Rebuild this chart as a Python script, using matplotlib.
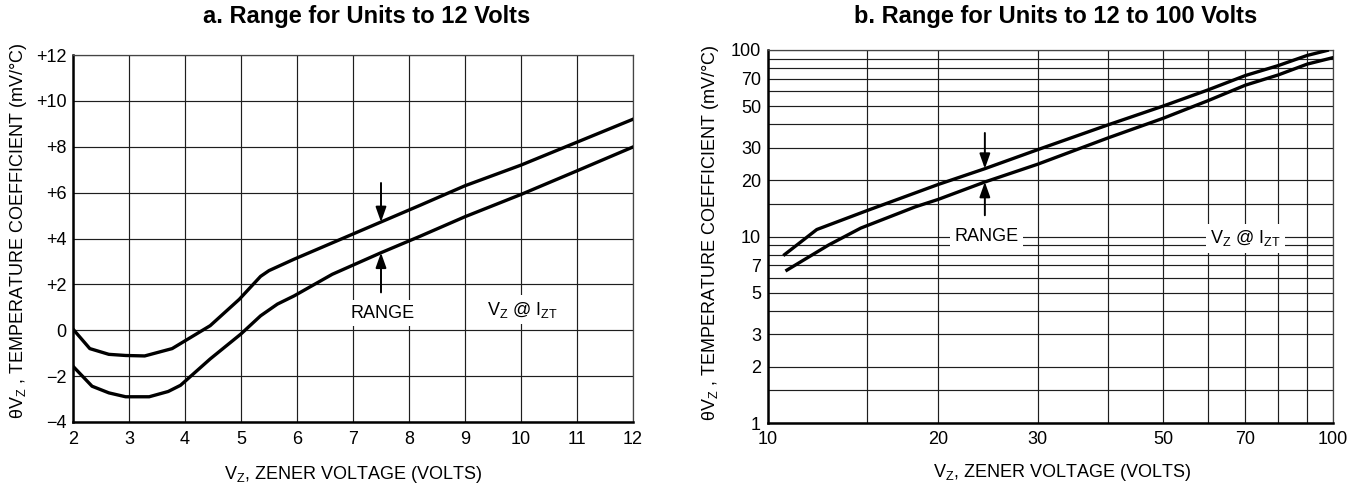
import matplotlib
matplotlib.use('Agg')
import matplotlib.pyplot as plt

plt.rcParams['font.family'] = ['Liberation Sans', 'DejaVu Sans']
plt.rcParams['mathtext.default'] = 'regular'

# ---------------- data: panel a (linear) ----------------
a_upper_vz = [2.0, 2.3, 2.64, 2.94, 3.28, 3.77, 4.45, 4.97, 5.35, 5.5, 5.95, 6.86, 7.5, 8.2, 9.0, 10.0, 11.0, 12.0]
a_upper_tc = [0.05, -0.8, -1.05, -1.1, -1.12, -0.8, 0.2, 1.35, 2.35, 2.6, 3.1, 4.05, 4.72, 5.45, 6.3, 7.2, 8.2, 9.2]
a_lower_vz = [2.0, 2.34, 2.64, 2.94, 3.36, 3.7, 3.92, 4.45, 5.0, 5.35, 5.65, 5.95, 6.63, 7.5, 8.2, 9.0, 10.0, 11.0, 12.0]
a_lower_tc = [-1.57, -2.44, -2.73, -2.9, -2.9, -2.67, -2.4, -1.25, -0.16, 0.63, 1.14, 1.5, 2.44, 3.38, 4.1, 4.95, 5.92, 6.95, 7.99]
a_xticks = [2, 3, 4, 5, 6, 7, 8, 9, 10, 11, 12]
a_yticks = [-4, -2, 0, 2, 4, 6, 8, 10, 12]
a_ylabels = ['\u22124', '\u22122', '0', '+2', '+4', '+6', '+8', '+10', '+12']
a_arrow_x = 7.5
a_arrow_down = (6.42, 4.72)
a_arrow_up = (1.65, 3.38)

# ---------------- data: panel b (log-log) ----------------
b_upper_vz = [10.7, 12.2, 15.0, 20.0, 24.2, 30.0, 40.0, 50.0, 60.0, 70.0, 80.0, 90.0, 97.7]
b_upper_tc = [8.0, 10.9, 13.8, 19.0, 23.1, 29.2, 39.7, 50.0, 61.0, 73.0, 82.5, 93.5, 99.5]
b_lower_vz = [10.8, 12.8, 14.6, 18.2, 20.0, 24.2, 30.0, 40.0, 50.0, 60.0, 70.0, 80.0, 90.0, 100.0]
b_lower_tc = [6.6, 9.0, 11.1, 14.4, 15.8, 19.6, 24.4, 33.8, 43.0, 53.4, 64.8, 73.5, 84.0, 91.0]
b_xticks = [10, 20, 30, 50, 70, 100]
b_xgrid_minor = [15, 40, 60, 80, 90]
b_yticks = [1, 2, 3, 5, 7, 10, 20, 30, 50, 70, 100]
b_ygrid_minor = [1.5, 4, 6, 8, 9, 15, 40, 60, 80, 90]
b_arrow_x = 24.2
b_arrow_down = (35.9, 23.1)
b_arrow_up = (13.0, 19.6)

W, H = 1353, 488
fig = plt.figure(figsize=(W / 100, H / 100), dpi=100)
axA = fig.add_axes([73 / W, 1 - 422 / H, 560 / W, 367 / H])
axB = fig.add_axes([768 / W, 1 - 423 / H, 565 / W, 373 / H])

FS = 13
GRID = dict(color='#1e1e1e', lw=0.85)


def style(ax):
    ax.set_axisbelow(True)
    for s in ('left', 'bottom'):
        ax.spines[s].set_linewidth(1.8)
        ax.spines[s].set_color('black')
    for s in ('top', 'right'):
        ax.spines[s].set_linewidth(0.9)
        ax.spines[s].set_color('#444444')
    ax.tick_params(which='both', length=0, labelsize=FS)


arrow_style = dict(arrowstyle='-|>,head_length=0.45,head_width=0.16', color='black',
                   lw=1.4, shrinkA=0, shrinkB=0, mutation_scale=20)
box = dict(boxstyle='square,pad=0.25', fc='white', ec='none')

# ---------------- panel a ----------------
style(axA)
axA.set_xlim(2, 12)
axA.set_ylim(-4, 12)
axA.set_xticks(a_xticks)
axA.set_yticks(a_yticks, a_ylabels)
axA.grid(True, **GRID)
axA.tick_params(axis='x', pad=6.5)
axA.tick_params(axis='y', pad=4.5)
axA.plot(a_upper_vz, a_upper_tc, color='black', lw=2.4, zorder=4, solid_joinstyle='round')
axA.plot(a_lower_vz, a_lower_tc, color='black', lw=2.4, zorder=4, solid_joinstyle='round')
axA.annotate('', xy=(a_arrow_x, a_arrow_down[1]), xytext=(a_arrow_x, a_arrow_down[0]),
             arrowprops=arrow_style, zorder=5)
axA.annotate('', xy=(a_arrow_x, a_arrow_up[1]), xytext=(a_arrow_x, a_arrow_up[0]),
             arrowprops=arrow_style, zorder=5)
axA.text(7.53, 0.75, 'RANGE', ha='center', va='center', fontsize=FS, bbox=box, zorder=3)
axA.text(10.03, 0.9, 'V$_Z$ @ I$_{ZT}$', ha='center', va='center', fontsize=FS, bbox=box, zorder=3)
axA.set_xlabel('V$_Z$, ZENER VOLTAGE (VOLTS)', fontsize=FS, va='baseline')
axA.xaxis.set_label_coords(0.5, -0.155)
axA.set_ylabel('\u03b8V$_Z$ , TEMPERATURE COEFFICIENT (mV/\u00b0C)', fontsize=FS, va='center')
axA.yaxis.set_label_coords(-0.098, 0.52)

# ---------------- panel b ----------------
style(axB)
axB.set_xscale('log')
axB.set_yscale('log')
axB.set_xlim(10, 100)
axB.set_ylim(1, 100)
axB.set_xticks(b_xticks, [str(v) for v in b_xticks])
axB.set_xticks(b_xgrid_minor, [''] * len(b_xgrid_minor), minor=True)
axB.set_yticks(b_yticks, [str(v) for v in b_yticks])
axB.set_yticks(b_ygrid_minor, [''] * len(b_ygrid_minor), minor=True)
axB.grid(True, which='both', **GRID)
axB.tick_params(axis='x', which='both', pad=5.5)
axB.tick_params(axis='y', which='both', pad=5)
axB.plot(b_upper_vz, b_upper_tc, color='black', lw=2.4, zorder=4, solid_joinstyle='round')
axB.plot(b_lower_vz, b_lower_tc, color='black', lw=2.4, zorder=4, solid_joinstyle='round')
axB.annotate('', xy=(b_arrow_x, b_arrow_down[1]), xytext=(b_arrow_x, b_arrow_down[0]),
             arrowprops=arrow_style, zorder=5)
axB.annotate('', xy=(b_arrow_x, b_arrow_up[1]), xytext=(b_arrow_x, b_arrow_up[0]),
             arrowprops=arrow_style, zorder=5)
axB.text(24.4, 10.0, 'RANGE', ha='center', va='center', fontsize=FS, bbox=box, zorder=3)
axB.text(70.0, 9.8, 'V$_Z$ @ I$_{ZT}$', ha='center', va='center', fontsize=FS, bbox=box, zorder=3)
axB.set_xlabel('V$_Z$, ZENER VOLTAGE (VOLTS)', fontsize=FS, va='baseline')
axB.xaxis.set_label_coords(0.52, -0.145)
axB.set_ylabel('\u03b8V$_Z$ , TEMPERATURE COEFFICIENT (mV/\u00b0C)', fontsize=FS, va='center')
axB.yaxis.set_label_coords(-0.101, 0.51)

# ---------------- titles ----------------
fig.text(367 / W, 1 - 23.3 / H, 'a. Range for Units to 12 Volts', ha='center', va='baseline',
         fontsize=17, fontweight='bold')
fig.text(1056 / W, 1 - 23.3 / H, 'b. Range for Units to 12 to 100 Volts', ha='center', va='baseline',
         fontsize=17, fontweight='bold')

fig.savefig('out.png', dpi=100)
